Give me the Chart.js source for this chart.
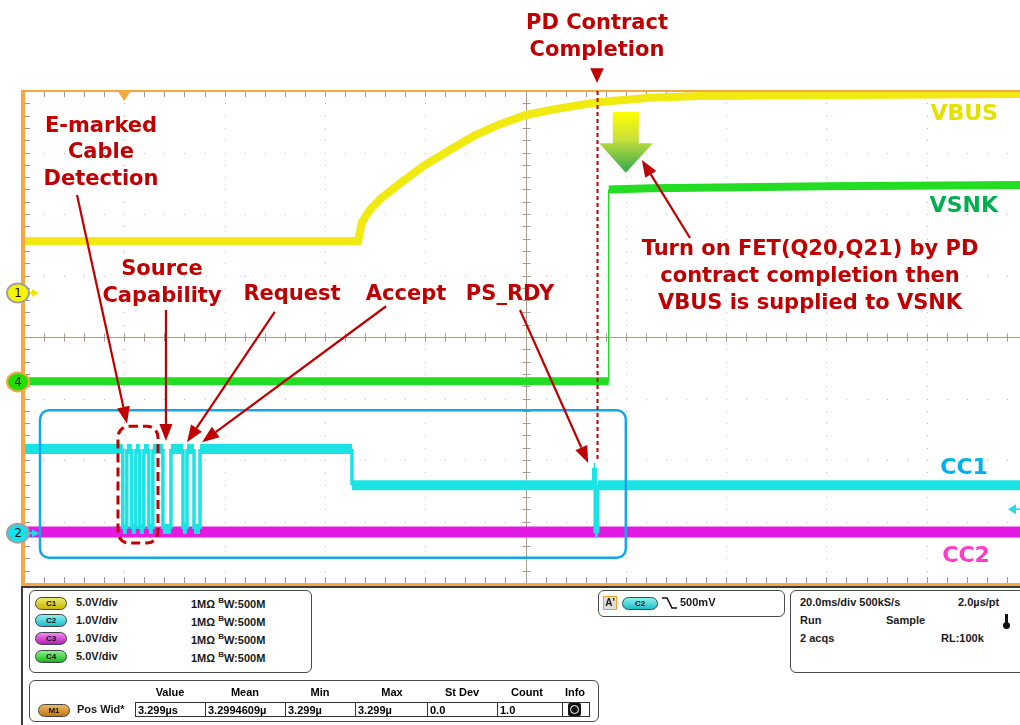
<!DOCTYPE html>
<html><head><meta charset="utf-8">
<script src="https://cdn.jsdelivr.net/npm/chart.js@4"></script>
<style>
html,body{margin:0;padding:0;background:#fff;overflow:hidden;}
#wrap{position:relative;width:1020px;height:725px;overflow:hidden;}
#c{position:absolute;left:0;top:0;}
.ui{position:absolute;font:bold 11px "Liberation Sans",Arial,sans-serif;color:#1a1a1a;white-space:nowrap;}
.box{position:absolute;border:1px solid #4a4a4a;border-radius:6px;background:#fff;}
.pill{position:absolute;width:30px;height:11px;border-radius:7px;border:1px solid #444;font:bold 8px "Liberation Sans",Arial,sans-serif;text-align:center;line-height:11px;color:#111;}
.cell{position:absolute;top:702px;height:15px;border:1px solid #333;border-right:none;font:bold 11px "Liberation Sans",Arial,sans-serif;line-height:15px;padding-left:2px;box-sizing:border-box;}
.hdr{position:absolute;top:686px;font:bold 11px "Liberation Sans",Arial,sans-serif;transform:translateX(-50%);}
</style></head>
<body><div id="wrap">
<canvas id="c" width="1020" height="725"></canvas>

<div style="position:absolute;left:21px;top:586px;width:1010px;height:150px;border-top:2px solid #3a3a3a;border-left:2px solid #3a3a3a;"></div>

<div class="box" style="left:29px;top:590px;width:281px;height:81px;"></div>
<div class="pill" style="left:35px;top:597px;background:linear-gradient(#eee86a,#c8b800);">C1</div>
<div class="pill" style="left:35px;top:614px;background:linear-gradient(#8ff0f0,#19c0c8);">C2</div>
<div class="pill" style="left:35px;top:632px;background:linear-gradient(#f08af0,#b81cb8);">C3</div>
<div class="pill" style="left:35px;top:650px;background:linear-gradient(#8cf08c,#1ab81a);">C4</div>
<div class="ui" style="left:76px;top:596px;">5.0V/div</div>
<div class="ui" style="left:76px;top:614px;">1.0V/div</div>
<div class="ui" style="left:76px;top:632px;">1.0V/div</div>
<div class="ui" style="left:76px;top:650px;">5.0V/div</div>
<div class="ui" style="left:191px;top:596px;">1MΩ <sup style="font-size:8px;">B</sup>W:500M</div>
<div class="ui" style="left:191px;top:614px;">1MΩ <sup style="font-size:8px;">B</sup>W:500M</div>
<div class="ui" style="left:191px;top:632px;">1MΩ <sup style="font-size:8px;">B</sup>W:500M</div>
<div class="ui" style="left:191px;top:650px;">1MΩ <sup style="font-size:8px;">B</sup>W:500M</div>

<div class="box" style="left:29px;top:680px;width:568px;height:40px;"></div>
<div class="hdr" style="left:170px;">Value</div>
<div class="hdr" style="left:245px;">Mean</div>
<div class="hdr" style="left:320px;">Min</div>
<div class="hdr" style="left:392px;">Max</div>
<div class="hdr" style="left:462px;">St Dev</div>
<div class="hdr" style="left:527px;">Count</div>
<div class="hdr" style="left:575px;">Info</div>
<div class="pill" style="left:38px;top:704px;background:linear-gradient(#f0b860,#c07810);">M1</div>
<div class="ui" style="left:77px;top:703px;">Pos Wid*</div>
<div class="cell" style="left:135px;width:70px;">3.299µs</div>
<div class="cell" style="left:205px;width:80px;">3.2994609µ</div>
<div class="cell" style="left:285px;width:70px;">3.299µ</div>
<div class="cell" style="left:355px;width:72px;">3.299µ</div>
<div class="cell" style="left:427px;width:70px;">0.0</div>
<div class="cell" style="left:497px;width:65px;">1.0</div>
<div class="cell" style="left:562px;width:28px;border-right:1px solid #333;"></div>
<div style="position:absolute;left:568px;top:703px;width:13px;height:13px;background:#111;border-radius:2px;"></div>
<div style="position:absolute;left:570px;top:705px;width:7px;height:7px;border:1px solid #fff;border-radius:50%;"></div>

<div class="box" style="left:598px;top:590px;width:185px;height:25px;"></div>
<div class="ui" style="left:603px;top:596px;width:12px;height:12px;border:1px solid #f0a030;background:#ddd;font-size:10px;line-height:12px;text-align:center;">A'</div>
<div class="pill" style="left:622px;top:597px;width:34px;background:linear-gradient(#8ff0f0,#19c0c8);">C2</div>
<svg style="position:absolute;left:661px;top:596px;" width="16" height="14"><polyline points="1,2 6,2 11,12 16,12" fill="none" stroke="#111" stroke-width="1.6"/></svg>
<div class="ui" style="left:680px;top:596px;">500mV</div>

<div class="box" style="left:790px;top:590px;width:240px;height:81px;"></div>
<div class="ui" style="left:800px;top:596px;">20.0ms/div 500kS/s</div>
<div class="ui" style="left:958px;top:596px;">2.0µs/pt</div>
<div class="ui" style="left:800px;top:614px;">Run</div>
<div class="ui" style="left:886px;top:614px;">Sample</div>
<div class="ui" style="left:800px;top:632px;">2 acqs</div>
<div class="ui" style="left:941px;top:632px;">RL:100k</div>
<div style="position:absolute;left:1005px;top:614px;width:3px;height:10px;background:#111;"></div>
<div style="position:absolute;left:1003px;top:622px;width:7px;height:7px;background:#111;border-radius:50%;"></div>
</div>

<script>
// ---------- DATA (time in ms, vertical in graticule divisions) ----------
const vbusTime = [0, 66.6, 67.4, 69.0, 71.0, 75.0, 80.0, 84.9, 89.9, 94.9, 100.1, 104.9, 109.9, 114.9, 124.8, 134.8, 154.7, 198.6];
const vbusDiv  = [1.56, 1.56, 1.87, 2.07, 2.24, 2.50, 2.80, 3.04, 3.28, 3.46, 3.61, 3.69, 3.76, 3.82, 3.89, 3.92, 3.93, 3.95];

const vsnkTime = [0, 116.6, 116.6, 125.0, 160.0, 198.6];
const vsnkDiv  = [-0.72, -0.72, 2.40, 2.42, 2.45, 2.47];

const cc1Time = [0,
  19.7, 19.7, 20.5, 20.5,
  21.5, 21.5, 22.3, 22.3,
  23.1, 23.1, 23.9, 23.9,
  24.9, 24.9, 25.7, 25.7,
  27.7, 27.7, 29.3, 29.3,
  31.7, 31.7, 32.5, 32.5,
  33.9, 33.9, 35.1, 35.1,
  65.4, 65.4,
  113.6, 113.6, 113.9, 113.9, 114.4, 114.4,
  198.6];
const cc1Div = [-1.82,
  -1.82, -3.12, -3.12, -1.82,
  -1.82, -3.12, -3.12, -1.82,
  -1.82, -3.12, -3.12, -1.82,
  -1.82, -3.12, -3.12, -1.82,
  -1.82, -3.12, -3.12, -1.82,
  -1.82, -3.12, -3.12, -1.82,
  -1.82, -3.12, -3.12, -1.82,
  -1.82, -2.41,
  -2.41, -2.13, -2.13, -3.19, -3.19, -2.41,
  -2.41];

const cc2Time = [0, 198.6];
const cc2Div  = [-3.17, -3.17];

const msPerDiv = 20, divCountX = 10, divCountY = 8;
const xMin = 0, xMax = 198.6, yMin = -4, yMax = 4;

// ---------- helpers ----------
const pts = (t, v) => t.map((x, i) => ({x, y: v[i]}));
const segW = (thick, thin) => ctx => (Math.abs(ctx.p0.x - ctx.p1.x) < 0.6 ? thin : thick);
const RED = '#C00000';

function arrow(ctx, x1, y1, x2, y2, color, w, hl, hw) {
  const a = Math.atan2(y2 - y1, x2 - x1);
  const bx = x2 - hl * Math.cos(a), by = y2 - hl * Math.sin(a);
  ctx.strokeStyle = color; ctx.lineWidth = w;
  ctx.beginPath(); ctx.moveTo(x1, y1); ctx.lineTo(bx, by); ctx.stroke();
  ctx.fillStyle = color; ctx.beginPath(); ctx.moveTo(x2, y2);
  ctx.lineTo(bx + hw / 2 * Math.sin(a), by - hw / 2 * Math.cos(a));
  ctx.lineTo(bx - hw / 2 * Math.sin(a), by + hw / 2 * Math.cos(a));
  ctx.closePath(); ctx.fill();
}
function rrect(ctx, x, y, w, h, r) {
  ctx.beginPath();
  ctx.moveTo(x + r, y); ctx.lineTo(x + w - r, y); ctx.arcTo(x + w, y, x + w, y + r, r);
  ctx.lineTo(x + w, y + h - r); ctx.arcTo(x + w, y + h, x + w - r, y + h, r);
  ctx.lineTo(x + r, y + h); ctx.arcTo(x, y + h, x, y + h - r, r);
  ctx.lineTo(x, y + r); ctx.arcTo(x, y, x + r, y, r); ctx.closePath();
}

// annotation layout (in data units: ms, div)
const notes = [
  {t: 'E-marked', x: 15.35, y: 3.333}, {t: 'Cable', x: 15.35, y: 2.911}, {t: 'Detection', x: 15.35, y: 2.472},
  {t: 'Source', x: 27.52, y: 1.008}, {t: 'Capability', x: 27.52, y: 0.569},
  {t: 'Request', x: 53.44, y: 0.602}, {t: 'Accept', x: 76.17, y: 0.602}, {t: 'PS_RDY', x: 96.91, y: 0.602},
  {t: 'PD Contract', x: 114.26, y: 5.008}, {t: 'Completion', x: 114.26, y: 4.569},
  {t: 'Turn on FET(Q20,Q21) by PD', x: 156.73, y: 1.333},
  {t: 'contract completion then', x: 156.73, y: 0.894},
  {t: 'VBUS is supplied to VSNK', x: 156.73, y: 0.455}
];
const traceLabels = [
  {t: 'VBUS', x: 194.2, y: 3.528, c: '#E6E000'},
  {t: 'VSNK', x: 194.2, y: 2.033, c: '#00B050'},
  {t: 'CC1', x: 192.2, y: -2.228, c: '#00B0F0'},
  {t: 'CC2', x: 192.6, y: -3.659, c: '#FF3CC8'}
];
const arrows = [
  [10.57, 2.31, 20.54, -1.41],
  [28.3, 0.44, 28.3, -1.69],
  [50.0, 0.41, 32.5, -1.71],
  [72.2, 0.50, 35.5, -1.71],
  [98.9, 0.44, 112.5, -2.05],
  [132.8, 1.61, 123.2, 2.88]
];

const scopePlugin = {
  id: 'scope',
  beforeDatasetsDraw(chart) {
    const ctx = chart.ctx, xs = chart.scales.x, ys = chart.scales.y, a = chart.chartArea;
    const X = v => xs.getPixelForValue(v), Y = v => ys.getPixelForValue(v);
    ctx.save();
    ctx.fillStyle = '#bdbdbd';
    for (let d = 1; d < divCountX; d++) {
      if (d === 5) continue;
      const gx = Math.round(X(d * msPerDiv));
      for (let m = 0; m <= divCountY * 5; m++) ctx.fillRect(gx, Math.round(Y(yMin + m * 0.2)), 1, 1);
    }
    for (let d = yMin + 1; d < yMax; d++) {
      if (d === 0) continue;
      const gy = Math.round(Y(d));
      for (let m = 0; m <= divCountX * 5; m++) ctx.fillRect(Math.round(X(m * msPerDiv / 5)), gy, 1, 1);
    }
    ctx.strokeStyle = '#a89c8c'; ctx.lineWidth = 1;
    const cx = Math.round(X(5 * msPerDiv)) + 0.5, cy = Math.round(Y(0)) + 0.5;
    ctx.beginPath(); ctx.moveTo(cx, a.top); ctx.lineTo(cx, a.bottom); ctx.moveTo(a.left, cy); ctx.lineTo(a.right, cy); ctx.stroke();
    ctx.beginPath();
    for (let m = 0; m <= divCountY * 5; m++) { const gy = Math.round(Y(yMin + m * 0.2)) + 0.5; ctx.moveTo(cx - 4, gy); ctx.lineTo(cx + 4, gy); }
    for (let m = 0; m <= divCountX * 5; m++) { const gx = Math.round(X(m * msPerDiv / 5)) + 0.5; ctx.moveTo(gx, cy - 4); ctx.lineTo(gx, cy + 4); }
    ctx.stroke();
    ctx.strokeStyle = '#9a9a9a'; ctx.beginPath();
    for (let m = 1; m <= divCountX * 5; m++) {
      const gx = Math.round(X(m * msPerDiv / 5)) + 0.5;
      ctx.moveTo(gx, a.top); ctx.lineTo(gx, a.top + 6);
      ctx.moveTo(gx, a.bottom); ctx.lineTo(gx, a.bottom - 6);
    }
    for (let m = 1; m < divCountY * 5; m++) {
      const gy = Math.round(Y(yMin + m * 0.2)) + 0.5;
      ctx.moveTo(a.left, gy); ctx.lineTo(a.left + 6, gy);
    }
    ctx.stroke();
    ctx.restore();
  },
  afterDatasetsDraw(chart) {
    const ctx = chart.ctx, xs = chart.scales.x, ys = chart.scales.y, a = chart.chartArea;
    const X = v => xs.getPixelForValue(v), Y = v => ys.getPixelForValue(v);
    ctx.save();
    ctx.strokeStyle = '#F5A742';
    ctx.lineWidth = 2; ctx.beginPath(); ctx.moveTo(a.left - 3, a.top); ctx.lineTo(1020, a.top); ctx.stroke();
    ctx.lineWidth = 4; ctx.beginPath(); ctx.moveTo(a.left - 1, a.top - 1); ctx.lineTo(a.left - 1, a.bottom + 2); ctx.lineTo(1020, a.bottom + 2); ctx.stroke();
    const tx = X(msPerDiv);
    ctx.fillStyle = '#F5A742'; ctx.beginPath(); ctx.moveTo(tx - 6, a.top + 1); ctx.lineTo(tx + 6, a.top + 1); ctx.lineTo(tx, a.top + 10); ctx.closePath(); ctx.fill();
    const ty = Y(-2.80);
    ctx.fillStyle = '#19E0E8'; ctx.beginPath(); ctx.moveTo(a.right - 12, ty); ctx.lineTo(a.right - 4, ty - 5); ctx.lineTo(a.right - 4, ty + 5); ctx.closePath(); ctx.fill();
    ctx.strokeStyle = '#19E0E8'; ctx.lineWidth = 1.5; ctx.beginPath(); ctx.moveTo(a.right - 5, ty); ctx.lineTo(a.right, ty); ctx.stroke();

    const bx1 = X(3.19), bx2 = X(120.0), by1 = Y(-1.19), by2 = Y(-3.59);
    ctx.strokeStyle = '#12A8E8'; ctx.lineWidth = 2.5;
    rrect(ctx, bx1, by1, bx2 - bx1, by2 - by1, 9); ctx.stroke();
    const rx1 = X(18.74), rx2 = X(26.72), ry1 = Y(-1.45), ry2 = Y(-3.35);
    ctx.strokeStyle = RED; ctx.lineWidth = 3; ctx.setLineDash([9, 5]);
    rrect(ctx, rx1, ry1, rx2 - rx1, ry2 - ry1, 11); ctx.stroke();
    ctx.setLineDash([]);
    const dx = Math.round(X(114.26)) + 0.5;
    ctx.lineWidth = 2; ctx.setLineDash([4, 3]);
    ctx.beginPath(); ctx.moveTo(dx, a.top); ctx.lineTo(dx, Y(-2.0)); ctx.stroke();
    ctx.setLineDash([]);
    ctx.fillStyle = RED; ctx.beginPath();
    ctx.moveTo(X(112.9), Y(4.37)); ctx.lineTo(X(115.6), Y(4.37)); ctx.lineTo(X(114.26), Y(4.13)); ctx.closePath(); ctx.fill();

    const gTop = Y(3.66), gSh = Y(3.15), gTip = Y(2.67);
    const grad = ctx.createLinearGradient(0, gTop, 0, gTip);
    grad.addColorStop(0, '#FFFF00'); grad.addColorStop(0.45, '#C8E03A'); grad.addColorStop(1, '#2FA84F');
    ctx.fillStyle = grad; ctx.beginPath();
    ctx.moveTo(X(117.4), gTop); ctx.lineTo(X(122.6), gTop); ctx.lineTo(X(122.6), gSh); ctx.lineTo(X(125.4), gSh);
    ctx.lineTo(X(120.0), gTip); ctx.lineTo(X(114.7), gSh); ctx.lineTo(X(117.4), gSh); ctx.closePath(); ctx.fill();

    arrows.forEach(r => arrow(ctx, X(r[0]), Y(r[1]), X(r[2]), Y(r[3]), RED, 2.2, 17, 13));

    ctx.textBaseline = 'alphabetic';
    ctx.font = 'bold 21px "DejaVu Sans"'; ctx.fillStyle = RED; ctx.textAlign = 'center';
    notes.forEach(n => ctx.fillText(n.t, X(n.x), Y(n.y)));
    ctx.textAlign = 'right'; ctx.font = 'bold 22px "DejaVu Sans"';
    traceLabels.forEach(n => { ctx.fillStyle = n.c; ctx.fillText(n.t, X(n.x), Y(n.y)); });

    const marker = (yv, fill, ring, label, arrowCol) => {
      const mx = X(-1.2), my = Y(yv);
      if (arrowCol) {
        ctx.fillStyle = arrowCol; ctx.fillRect(mx + 8, my - 1, 8, 2);
        ctx.beginPath(); ctx.moveTo(mx + 21, my); ctx.lineTo(mx + 14, my - 4); ctx.lineTo(mx + 14, my + 4); ctx.closePath(); ctx.fill();
      }
      ctx.beginPath(); ctx.ellipse(mx, my, 11, 9.5, 0, 0, Math.PI * 2);
      ctx.fillStyle = fill; ctx.fill(); ctx.lineWidth = 2; ctx.strokeStyle = ring; ctx.stroke();
      ctx.fillStyle = '#111'; ctx.font = '12px "DejaVu Sans"'; ctx.textAlign = 'center'; ctx.textBaseline = 'middle';
      ctx.fillText(label, mx, my + 1);
    };
    marker(0.715, '#F5F500', '#a0a0a0', '1', '#F0E800');
    marker(-0.73, '#22DD00', '#F5A742', '4', null);
    marker(-3.19, '#19E0E8', '#a0a0a0', '2', '#19E0E8');
    ctx.restore();
  }
};

new Chart(document.getElementById('c'), {
  type: 'line',
  data: {
    datasets: [
      {label: 'CC1', data: pts(cc1Time, cc1Div), borderColor: '#1BE3E3', order: 1,
       segment: {borderWidth: segW(10, 3.5)}},
      {label: 'CC2', data: pts(cc2Time, cc2Div), borderColor: '#E21AE2', borderWidth: 11, order: 2},
      {label: 'VSNK', data: pts(vsnkTime, vsnkDiv), borderColor: '#22DD22', order: 3,
       segment: {borderWidth: segW(8, 1.5)}},
      {label: 'VBUS', data: pts(vbusTime, vbusDiv), borderColor: '#F0EA10', borderWidth: 8, order: 4}
    ]
  },
  options: {
    responsive: false, animation: false, devicePixelRatio: 1,
    layout: {padding: {left: 24, top: 91, right: 0, bottom: 142}},
    elements: {point: {radius: 0}, line: {tension: 0, borderJoinStyle: 'miter', borderCapStyle: 'butt'}},
    scales: {
      x: {type: 'linear', min: xMin, max: xMax, display: false},
      y: {type: 'linear', min: yMin, max: yMax, display: false}
    },
    plugins: {legend: {display: false}, tooltip: {enabled: false}, title: {display: false}}
  },
  plugins: [scopePlugin]
});
</script>
</body></html>
